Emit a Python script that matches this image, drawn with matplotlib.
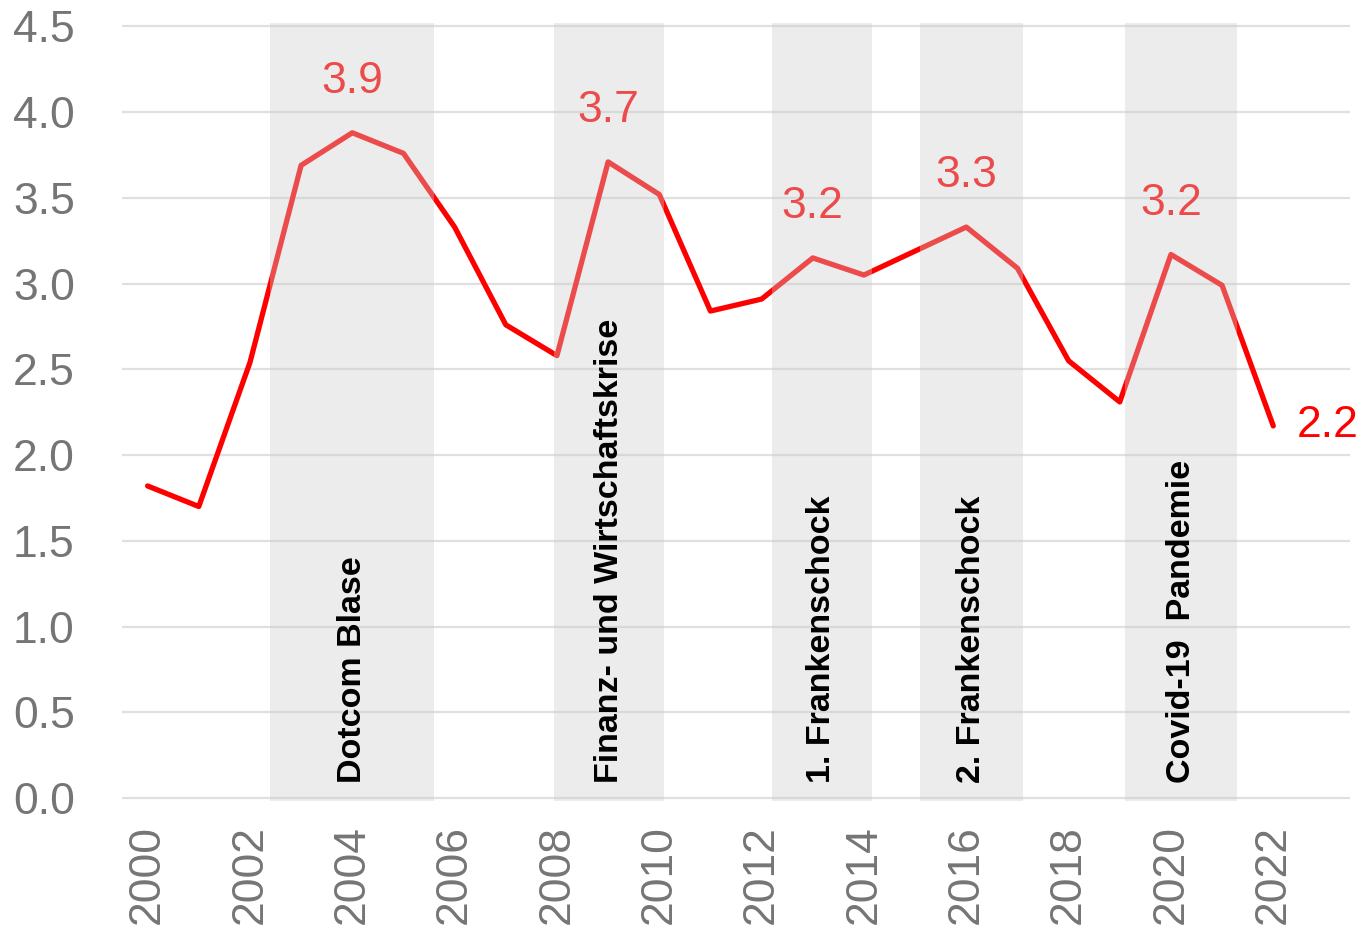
import matplotlib
matplotlib.use("Agg")
import matplotlib.pyplot as plt

RED = "#ff0000"
GRID = "#e0e0e0"
TICK = "#757575"
FONT = "Liberation Sans"

# data
years = list(range(2000, 2023))
values = [1.82, 1.70, 2.54, 3.69, 3.88, 3.76, 3.33, 2.76, 2.58, 3.71, 3.52, 2.84,
          2.91, 3.15, 3.05, 3.19, 3.33, 3.09, 2.55, 2.31, 3.17, 2.99, 2.17]

# shaded crisis periods
band_start = [2002.4, 2007.95, 2012.2, 2015.1, 2019.1]
band_end = [2005.6, 2010.1, 2014.15, 2017.1, 2021.3]
band_text = ["Dotcom Blase", "Finanz- und Wirtschaftskrise", "1. Frankenschock",
             "2. Frankenschock", "Covid-19  Pandemie"]

# labelled peaks
peak_years = [2004, 2009, 2013, 2016, 2020]
peak_labels = ["3.9", "3.7", "3.2", "3.3", "3.2"]
last_label = "2.2"

fig = plt.figure(figsize=(13.62, 9.32), dpi=100)
ax = fig.add_axes([0.0896, 0.1401, 0.9016, 0.8352])

ax.plot(years, values, color=RED, lw=3.8, zorder=2, solid_capstyle="round")

for yr, lab in zip(peak_years, peak_labels):
    v = values[years.index(yr)]
    ax.annotate(lab, (yr, v), xytext=(0, 37), textcoords="offset points",
                ha="center", va="center", color=RED, fontsize=32,
                family=FONT, zorder=2)
ax.annotate(last_label, (years[-1], values[-1]), xytext=(39, 0),
            textcoords="offset points", ha="center", va="center",
            color=RED, fontsize=32, family=FONT, zorder=2)

for s, e, t in zip(band_start, band_end, band_text):
    ax.axvspan(s, e, ymin=0, ymax=1, facecolor=(0.8, 0.8, 0.8), alpha=0.37,
               lw=0, zorder=3)
    ax.text((s + e) / 2, 0.09, t, rotation=90, ha="center", va="bottom",
            fontsize=24.5, fontweight="bold", family=FONT,
            color="black", zorder=4)

ax.set_xlim(1999.5, 2023.5)
ax.set_ylim(-0.02, 4.52)
ax.set_yticks([0, 0.5, 1, 1.5, 2, 2.5, 3, 3.5, 4, 4.5])
ax.set_yticklabels([f"{v:.1f}" for v in ax.get_yticks()])
ax.set_xticks(list(range(2000, 2023, 2)))
ax.set_xticklabels([str(y) for y in range(2000, 2023, 2)], rotation=90)

ax.grid(axis="y", color=GRID, lw=1.6, zorder=1)
ax.set_axisbelow(True)
for s in ax.spines.values():
    s.set_visible(False)
ax.tick_params(axis="both", length=0, colors=TICK, labelsize=32)
ax.tick_params(axis="x", pad=17)
ax.tick_params(axis="y", pad=34)
for lab in ax.get_xticklabels() + ax.get_yticklabels():
    lab.set_family(FONT)

fig.savefig("out.png", dpi=100, facecolor="white")
